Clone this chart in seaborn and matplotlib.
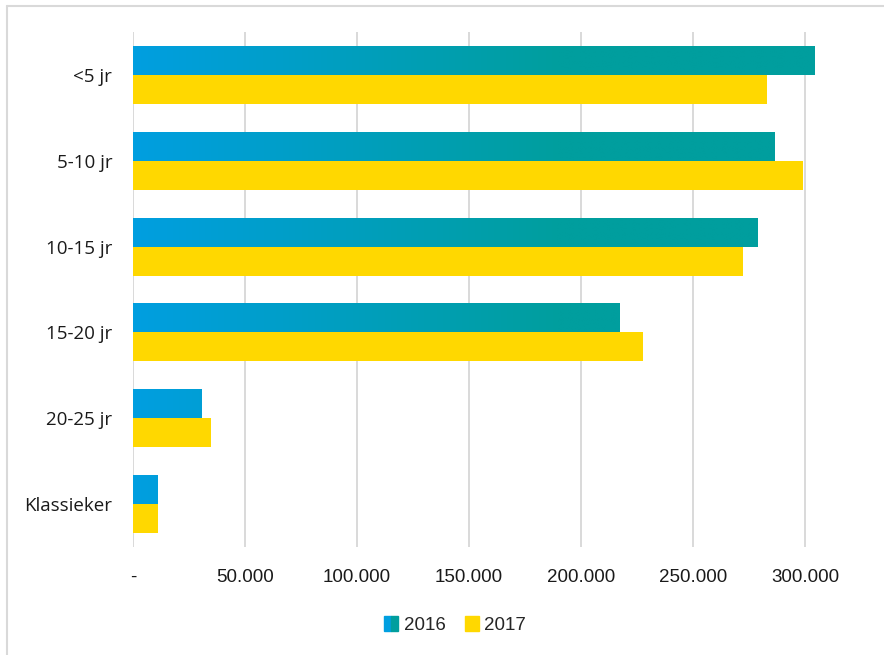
import numpy as np
import pandas as pd
import matplotlib
matplotlib.use('Agg')
import matplotlib.pyplot as plt
import seaborn as sns
from matplotlib.colors import LinearSegmentedColormap
from matplotlib.patches import Patch
from matplotlib.legend_handler import HandlerTuple
from matplotlib.lines import Line2D
from matplotlib.ticker import FuncFormatter

categories = ['<5 jr', '5-10 jr', '10-15 jr', '15-20 jr', '20-25 jr', 'Klassieker']
years = ['2016', '2017']
values_2016 = [304300, 286200, 278700, 217000, 30800, 11000]
values_2017 = [282900, 299300, 272200, 227700, 34800, 11000]
xticks = [0, 50000, 100000, 150000, 200000, 250000, 300000]

BLUE = '#009FE0'
TEAL = '#009E9E'
YELLOW = '#FFD800'
GRID = '#D9D9D9'

df = pd.DataFrame({
    'cat': categories * 2,
    'year': ['2016'] * len(categories) + ['2017'] * len(categories),
    'value': values_2016 + values_2017,
})

sns.set_style('white')
plt.rcParams['font.family'] = ['Open Sans', 'DejaVu Sans']

fig = plt.figure(figsize=(8.84, 6.55), dpi=100)
ax = fig.add_axes([133 / 884, 1 - 547 / 655, 784 / 884, 515 / 655])

sns.barplot(data=df, y='cat', x='value', hue='year', order=categories, hue_order=years,
            palette={'2016': BLUE, '2017': YELLOW}, orient='h', width=0.675,
            saturation=1, linewidth=0, errorbar=None, ax=ax, legend=False)

ax.set_xlim(0, 350000)
ax.set_ylim(len(categories) - 0.5, -0.5)

# gradient fill for the 2016 bars (blue -> teal along the value axis)
cmap = LinearSegmentedColormap.from_list('bt', [BLUE, TEAL])
xs = np.linspace(0, 350000, 600)
grad = np.clip(xs / 190000, 0, 1)[None, :]
for p in ax.containers[0].patches:
    y0 = p.get_y()
    y1 = y0 + p.get_height()
    im = ax.imshow(grad, cmap=cmap, vmin=0, vmax=1, aspect='auto',
                   extent=(0, 350000, y1, y0), zorder=p.get_zorder() + 0.1,
                   interpolation='bilinear')
    im.set_clip_path(p)
ax.set_xlim(0, 350000)
ax.set_ylim(len(categories) - 0.5, -0.5)

ax.set_xticks(xticks)
ax.xaxis.set_major_formatter(FuncFormatter(lambda v, pos: '-' if v == 0 else f'{int(v):,}'.replace(',', '.')))
ax.grid(axis='x', color=GRID, linewidth=1.4)
ax.grid(axis='y', visible=False)
ax.set_axisbelow(True)
for s in ax.spines.values():
    s.set_visible(False)
ax.tick_params(axis='x', length=0, pad=16)
ax.tick_params(axis='y', length=0, pad=15)
for lbl in ax.get_xticklabels():
    lbl.set_fontfamily(['Liberation Sans', 'DejaVu Sans'])
    lbl.set_fontsize(13.5)
    lbl.set_color('#1a1a1a')
for lbl in ax.get_yticklabels():
    lbl.set_fontsize(13.5)
    lbl.set_color('#1a1a1a')
ax.set_xlabel('')
ax.set_ylabel('')

handles = [(Patch(color=BLUE), Patch(color=TEAL)), Patch(color=YELLOW)]
fig.legend(handles, years, loc='center', bbox_to_anchor=(0.515, 0.046), ncol=2,
           frameon=False, handler_map={tuple: HandlerTuple(ndivide=None, pad=0)},
           handlelength=0.75, handleheight=0.9, handletextpad=0.3, columnspacing=1.0,
           prop={'family': ['Liberation Sans', 'DejaVu Sans'], 'size': 13.5})

# chart border (cropped on the right and bottom)
fig.add_artist(Line2D([7 / 884, 7 / 884], [0, 1 - 6 / 655], color=GRID, linewidth=1.5))
fig.add_artist(Line2D([7 / 884, 1], [1 - 6 / 655, 1 - 6 / 655], color=GRID, linewidth=1.5))

fig.savefig('out.png', dpi=100, facecolor='white')
